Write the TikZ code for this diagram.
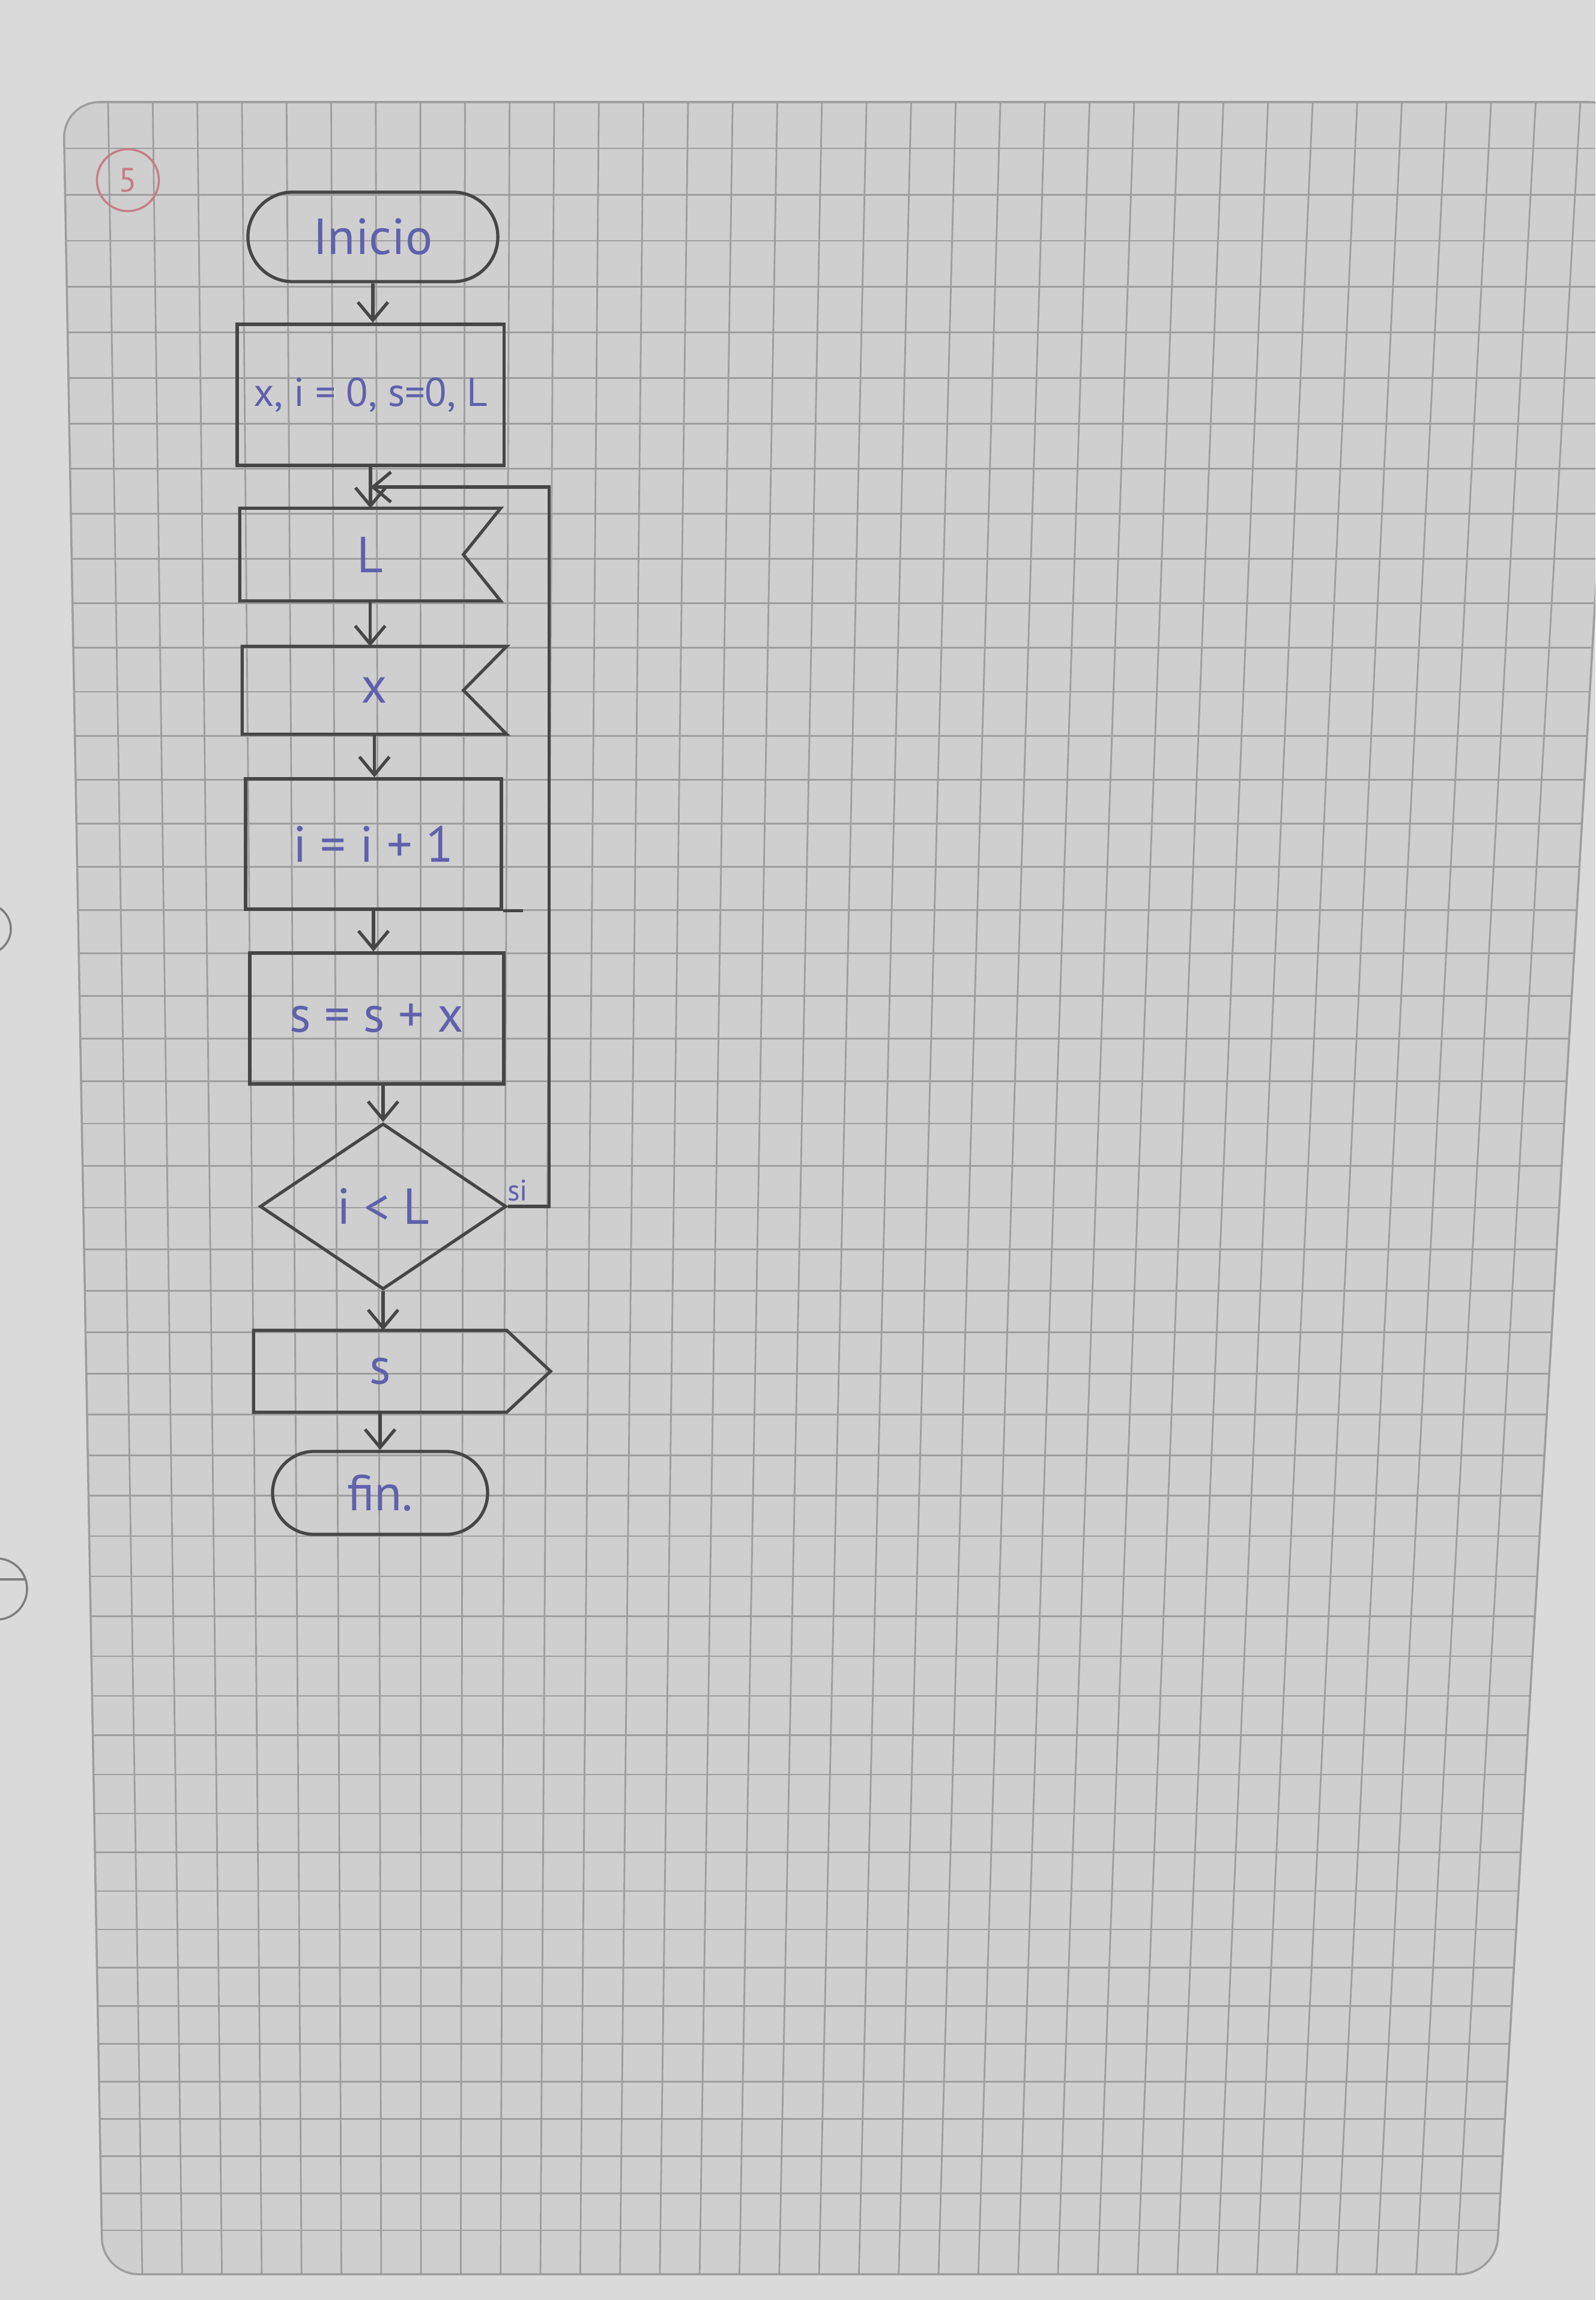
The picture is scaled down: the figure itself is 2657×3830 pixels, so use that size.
\documentclass[tikz,border=0pt]{standalone}
\usepackage{fontspec}
\setmainfont{PT Sans}
\usetikzlibrary{shapes.geometric,
				shapes.misc,
				arrows.meta}

\definecolor{desk}{RGB}{218,218,218}
\definecolor{sheet}{RGB}{207,207,207}
\definecolor{gridgray}{RGB}{158,158,158}
\definecolor{pencilgray}{RGB}{70,70,70}
\definecolor{ink}{RGB}{96,96,172}
\definecolor{redpen}{RGB}{198,124,136}

\tikzset{
	pencil/.style={draw=pencilgray, line width=1.5pt},
	flow/.style={pencil, -{Straight Barb[length=3mm, width=5mm]}},
	hand/.style={text=ink, font=\fontsize{24}{28}\selectfont},
	terminal/.style={rounded rectangle, pencil, hand, inner sep=0pt},
	procbox/.style={rectangle, pencil, hand, inner sep=0pt},
	iobox/.style={rectangle, hand, inner sep=0pt},
	decision/.style={diamond, pencil, hand, inner sep=0pt}
}

\begin{document}
\begin{tikzpicture}[x=0.01cm, y=-0.01cm]

\useasboundingbox (0,0) rectangle (2657,3830);
\clip (0,0) rectangle (2657,3830);

% sheet of squared paper
\fill[desk] (0,0) rectangle (2657,3830);
\filldraw[fill=sheet, draw=gridgray, line width=1pt, rounded corners=0.6cm] (105.7,170) -- (2706,170) -- (2491,3787) -- (170.7,3787) -- cycle;

\begin{scope}
\clip[rounded corners=0.6cm] (105.7,170) -- (2706,170) -- (2491,3787) -- (170.7,3787) -- cycle;
\foreach \k in {0,...,33}
	\draw[gridgray, line width=0.8pt] ({180+74.3*\k},170) -- ({237+66.3*\k},3787);
\foreach \k in {0,...,50}
	\draw[gridgray, line width=0.8pt] (0,{247+77.34*\k-0.16*\k*\k}) -- (2657,{247+77.34*\k-0.16*\k*\k});
\end{scope}

% rings of the next page
\draw[gridgray!80!black, line width=1pt] (-24,1547) circle (0.42cm);
\draw[gridgray!80!black, line width=1pt] (-6,2646) circle (0.51cm);
\draw[gridgray!80!black, line width=1pt] (0,2630) -- (43,2630);

\node[circle, draw=redpen, line width=1pt, text=redpen, font=\fontsize{16}{18}\selectfont, minimum size=1.03cm, inner sep=0pt] (num) at (213,300) {5};

% flowchart
\node[terminal, minimum width=4.16cm, minimum height=1.49cm] (start) at (621,394.5) {Inicio};
\node[procbox, minimum width=4.44cm, minimum height=2.35cm, font=\fontsize{19}{22}\selectfont] (init) at (617,657.5) {x, i = 0, s=0, L};
\node[iobox, minimum width=4.33cm, minimum height=1.53cm] (readL) at (616.5,923.5) {L};
\node[iobox, minimum width=4.39cm, minimum height=1.45cm] (readX) at (623.5,1149.5) {x};
\node[procbox, minimum width=4.26cm, minimum height=2.17cm] (incr) at (622,1405.5) {i = i + 1};
\node[procbox, minimum width=4.23cm, minimum height=2.18cm] (sum) at (627.5,1696) {s = s + x};
\node[decision, minimum width=4.10cm, minimum height=2.76cm] (test) at (638,2009) {i < L};
\node[iobox, minimum width=4.20cm, minimum height=1.35cm] (show) at (633,2283.5) {s};
\node[terminal, minimum width=3.58cm, minimum height=1.38cm] (stop) at (633,2486) {fin.};
\node[hand, font=\fontsize{14}{16}\selectfont] (si) at (862,1982) {si};

\draw[pencil] (readL.north west) -- (readL.north east) -- ([xshift=-0.62cm]readL.east) -- (readL.south east) -- (readL.south west) -- cycle;
\draw[pencil] (readX.north west) -- (readX.north east) -- ([xshift=-0.72cm]readX.east) -- (readX.south east) -- (readX.south west) -- cycle;
\draw[pencil] (show.north west) -- (show.north east) -- ([xshift=0.73cm]show.east) -- (show.south east) -- (show.south west) -- cycle;
\draw[pencil] (incr.south east) -- ++(33,0);

\coordinate (loopIn) at (617,811);

\draw[flow] (start.south) -- (start.south |- init.north);
\draw[flow] (init.south) -- (init.south |- readL.north);
\draw[flow] (readL.south) -- (readL.south |- readX.north);
\draw[flow] (readX.south) -- (readX.south |- incr.north);
\draw[flow] (incr.south) -- (incr.south |- sum.north);
\draw[flow] (test.north |- sum.south) -- (test.north);
\draw[flow] (test.south) -- (test.south |- show.north);
\draw[flow] (show.south) -- (show.south |- stop.north);
\draw[flow] (test.east) -- ++(69,0) |- (loopIn);

\end{tikzpicture}
\end{document}
